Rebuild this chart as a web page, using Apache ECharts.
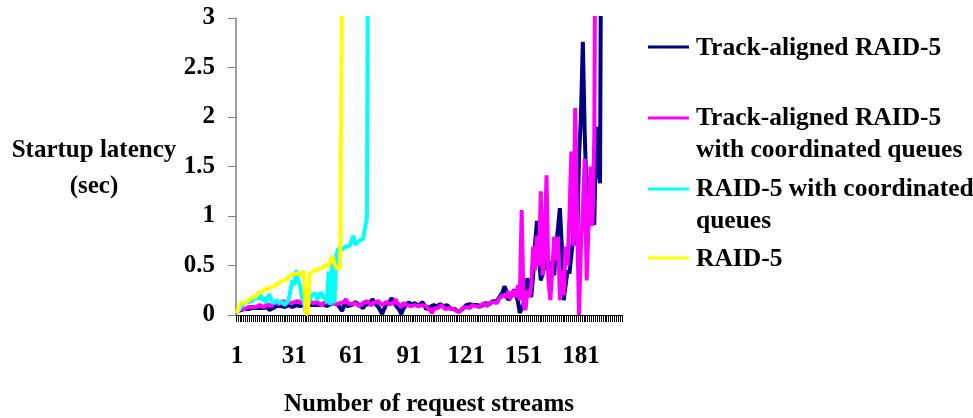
<!DOCTYPE html>
<html><head><meta charset="utf-8">
<script src="https://cdn.jsdelivr.net/npm/echarts@6/dist/echarts.min.js"></script>
<style>html,body{margin:0;padding:0;background:#fff}#c{width:973px;height:418px}</style>
</head><body><div id="c"></div>
<script>
// Data (values > 3 run off the top of the chart)
const categoryCount = 202;
const categories = Array.from({length: categoryCount}, (_, i) => String(i + 1));
const seriesNames = [
  'Track-aligned RAID-5',
  'Track-aligned RAID-5\nwith coordinated queues',
  'RAID-5 with coordinated\nqueues',
  'RAID-5'
];
const trackAligned = [
  0.03,0.04,0.05,0.05,0.06,0.07,0.06,0.08,0.07,0.06,
  0.07,0.08,0.07,0.06,0.07,0.09,0.08,0.05,0.06,0.07,
  0.07,0.09,0.10,0.09,0.08,0.08,0.09,0.10,0.09,0.08,
  0.09,0.10,0.10,0.09,0.08,0.10,0.11,0.10,0.09,0.10,
  0.11,0.10,0.09,0.10,0.12,0.11,0.10,0.09,0.10,0.11,
  0.10,0.12,0.11,0.10,0.09,0.04,0.10,0.11,0.09,0.08,
  0.10,0.12,0.13,0.11,0.10,0.09,0.07,0.10,0.12,0.11,
  0.13,0.16,0.12,0.10,0.08,0.06,0.01,0.06,0.10,0.12,
  0.14,0.17,0.13,0.10,0.08,0.05,0.01,0.06,0.09,0.11,
  0.13,0.10,0.08,0.12,0.10,0.09,0.11,0.13,0.10,0.06,
  0.04,0.08,0.07,0.10,0.09,0.08,0.11,0.10,0.09,0.07,
  0.10,0.09,0.06,0.08,0.06,0.05,0.03,0.04,0.06,0.08,
  0.10,0.12,0.11,0.09,0.10,0.12,0.10,0.11,0.09,0.10,
  0.12,0.10,0.11,0.13,0.14,0.12,0.14,0.16,0.20,0.23,
  0.29,0.24,0.15,0.13,0.20,0.26,0.20,0.14,0.02,0.00,
  0.12,0.22,0.37,0.30,0.18,0.40,0.72,0.95,0.60,0.35,
  0.42,0.50,0.68,0.45,0.30,0.55,0.40,0.70,0.88,1.08,
  0.70,0.15,0.30,0.45,0.42,0.60,0.80,1.09,0.70,1.60,
  2.00,2.76,1.83,1.20,1.40,1.10,1.30,0.91,1.90,1.50,
  1.33,6
];
const trackAlignedCQ = [
  0.04,0.05,0.06,0.07,0.06,0.07,0.08,0.07,0.08,0.09,
  0.08,0.09,0.10,0.09,0.08,0.10,0.11,0.10,0.09,0.10,
  0.13,0.12,0.11,0.13,0.14,0.12,0.13,0.11,0.12,0.14,
  0.13,0.12,0.14,0.13,0.12,0.11,0.13,0.12,0.14,0.13,
  0.12,0.11,0.13,0.12,0.10,0.12,0.13,0.11,0.12,0.14,
  0.13,0.12,0.11,0.10,0.12,0.14,0.13,0.16,0.12,0.10,
  0.11,0.13,0.12,0.10,0.09,0.11,0.12,0.13,0.14,0.12,
  0.10,0.11,0.13,0.12,0.14,0.12,0.10,0.11,0.13,0.12,
  0.11,0.09,0.12,0.16,0.12,0.10,0.08,0.12,0.11,0.10,
  0.12,0.09,0.11,0.10,0.12,0.09,0.11,0.10,0.08,0.09,
  0.07,0.05,0.02,0.06,0.08,0.07,0.09,0.10,0.08,0.06,
  0.08,0.07,0.09,0.06,0.05,0.04,0.02,0.04,0.07,0.06,
  0.08,0.09,0.07,0.10,0.08,0.09,0.11,0.08,0.10,0.12,
  0.11,0.09,0.12,0.11,0.13,0.14,0.12,0.16,0.18,0.20,
  0.20,0.18,0.24,0.16,0.22,0.25,0.18,0.30,0.15,1.06,
  0.10,0.05,0.25,0.18,0.30,0.69,0.45,0.80,0.50,1.25,
  0.40,0.70,1.41,0.35,0.15,0.45,0.79,0.55,0.79,0.15,
  0.45,0.20,0.69,0.50,1.00,1.65,0.70,2.09,1.00,0.00,
  0.69,1.06,1.58,0.35,0.90,1.50,0.90,1.80,6
];
const raid5CQ = [
  0.02,0.05,0.08,0.10,0.12,0.10,0.13,0.15,0.14,0.17,
  0.20,0.16,0.22,0.15,0.18,0.12,0.17,0.21,0.15,0.12,
  0.13,0.15,0.12,0.14,0.13,0.10,0.12,0.15,0.25,0.35,
  0.30,0.45,0.35,0.30,0.18,0.14,0.02,0.00,0.15,0.20,
  0.18,0.22,0.15,0.20,0.23,0.17,0.20,0.12,0.44,0.10,
  0.60,0.12,0.60,0.67,0.68,0.66,0.68,0.69,0.67,0.70,
  0.72,0.80,0.71,0.73,0.75,0.74,0.77,0.78,0.98,6
];
const raid5 = [
  0.02,0.08,0.12,0.13,0.12,0.14,0.15,0.16,0.18,0.20,
  0.19,0.22,0.21,0.24,0.25,0.26,0.25,0.27,0.28,0.29,
  0.30,0.31,0.32,0.34,0.36,0.35,0.37,0.38,0.40,0.41,
  0.40,0.42,0.43,0.41,0.42,0.44,0.03,0.00,0.42,0.43,
  0.44,0.45,0.46,0.47,0.47,0.48,0.50,0.51,0.50,0.55,
  0.60,0.52,0.47,0.46,0.48,0.50,6
];
const yTicks = {min: 0, max: 3, interval: 0.5};

const FONT = '"Liberation Serif", "Times New Roman", serif';
const colors = ['#000080', '#FF00FF', '#00FFFF', '#FFFF00'];
const seriesData = [trackAligned, trackAlignedCQ, raid5CQ, raid5];

const legendPos = [
  {lineY: 47, textY: 48},
  {lineY: 118, textY: 134},
  {lineY: 189, textY: 205},
  {lineY: 258, textY: 259}
];
const graphics = [];
graphics.push({type: 'text', x: 94, y: 169, style: {text: 'Startup latency\n(sec)', align: 'center', verticalAlign: 'middle', font: 'bold 25px ' + FONT, fill: '#000', lineHeight: 36}});
seriesNames.forEach((n, i) => {
  graphics.push({type: 'line', shape: {x1: 648, y1: legendPos[i].lineY, x2: 689, y2: legendPos[i].lineY}, style: {stroke: colors[i], lineWidth: 3}});
  graphics.push({type: 'text', x: 696, y: legendPos[i].textY, style: {text: n, align: 'left', verticalAlign: 'middle', font: 'bold 25.5px ' + FONT, fill: '#000', lineHeight: 32}});
});

const chart = echarts.init(document.getElementById('c'), null, {renderer: 'canvas'});
chart.setOption({
  animation: false,
  backgroundColor: '#fff',
  grid: {left: 236, top: 18, width: 386, height: 297, containLabel: false, outerBoundsMode: 'none'},
  xAxis: {
    type: 'category', data: categories, boundaryGap: true,
    name: 'Number of request streams', nameLocation: 'middle', nameGap: 77,
    nameTextStyle: {fontFamily: FONT, fontWeight: 'bold', fontSize: 25, color: '#000'},
    axisLine: {lineStyle: {color: '#000', width: 1}},
    axisTick: {show: true, interval: 0, length: 7, lineStyle: {color: '#000'}},
    axisLabel: {interval: 29, margin: 29, fontFamily: FONT, fontWeight: 'bold', fontSize: 25, color: '#000'},
    splitLine: {show: false}
  },
  yAxis: {
    type: 'value', min: yTicks.min, max: yTicks.max, interval: yTicks.interval,
    axisLine: {show: true, lineStyle: {color: '#808080', width: 1.5}},
    axisTick: {show: true, length: 8, lineStyle: {color: '#808080'}},
    axisLabel: {margin: 21, fontFamily: FONT, fontWeight: 'bold', fontSize: 25, color: '#000'},
    splitLine: {show: false}
  },
  graphic: graphics,
  series: seriesNames.map((n, i) => ({
    name: n, type: 'line', data: seriesData[i], showSymbol: false, symbol: 'none',
    clip: true, lineStyle: {color: colors[i], width: 4}, itemStyle: {color: colors[i]}, z: 2 + i
  }))
});
</script></body></html>
